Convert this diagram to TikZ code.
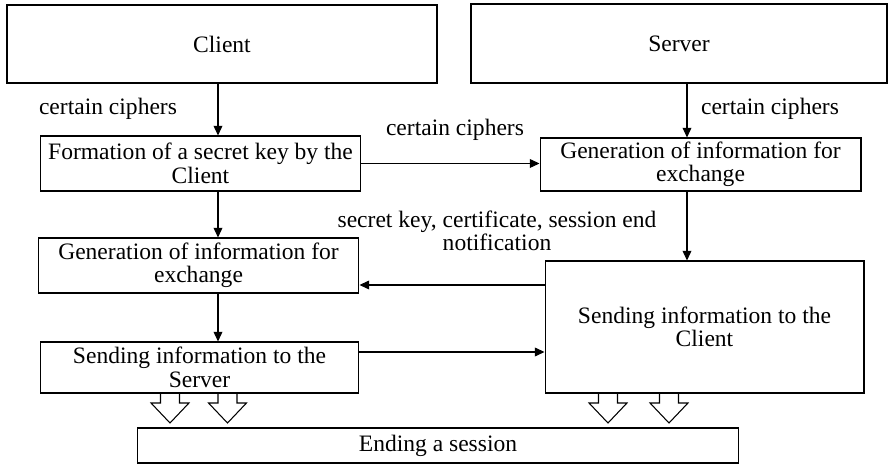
\documentclass[tikz,border=0pt]{standalone}
\usepackage{fontspec}
\setmainfont{Liberation Serif}
\usetikzlibrary{arrows.meta, positioning}

\begin{document}
\begin{tikzpicture}[x=0.02cm, y=-0.02cm,
                    font=\fontsize{13.4}{13.3}\selectfont,
                    >={Triangle[length=5.5pt, width=5pt]},
                    party node/.style= {rectangle,
                      draw,
                      line width=1.4pt,
                      minimum height=1.57cm},
                    stage node/.style= {rectangle,
                      draw,
                      line width=0.6pt,
                      align=center,
                      inner sep=1pt},
                    flow line/.style= {->, line width=0.6pt}]

  \useasboundingbox (0,0) rectangle (890,465);

  % parties
  \node[party node, minimum width=8.6cm] (client) at (222,44) {Client};
  \node[party node, minimum width=8.32cm] (server) at (679,43.5) {Server};

  % stages
  \node[stage node, minimum width=6.42cm, minimum height=1.1cm]
    (formation) at (200.5,163.5) {Formation of a secret key by the\\Client};
  \node[stage node, minimum width=6.42cm, minimum height=1.06cm]
    (genS) at (700.5,164.5) {Generation of information for\\exchange};
  \node[stage node, minimum width=6.42cm, minimum height=1.1cm]
    (genC) at (198.5,265.5) {Generation of information for\\exchange};
  \node[stage node, minimum width=6.38cm, minimum height=1.02cm]
    (sendS) at (199.5,367.5) {Sending information to the\\Server};
  \node[stage node, minimum width=6.38cm, minimum height=2.64cm]
    (sendC) at (704.5,327) {Sending information to the\\Client};
  \node[stage node, minimum width=12.04cm, minimum height=0.7cm]
    (ending) at (438,445.5) {Ending a session};

  % labels
  \node (ciphA) at (108,109) {certain ciphers};
  \node (ciphB) at (455,130) {certain ciphers};
  \node (ciphC) at (770,109) {certain ciphers};
  \node[align=center] (keys) at (497,231) {secret key, certificate, session end\\notification};

  \coordinate (colL) at (218,0);
  \coordinate (colR) at (687,0);
  \coordinate (rowA) at (0,285);
  \coordinate (rowB) at (0,352);

  \path[flow line]
    (client.south -| colL) edge (formation.north -| colL)
    (formation.south -| colL) edge (genC.north -| colL)
    (genC.south -| colL) edge (sendS.north -| colL)
    (server.south -| colR) edge (genS.north -| colR)
    (genS.south -| colR) edge (sendC.north -| colR)
    (formation.east) edge (formation.east -| genS.west)
    (sendC.west |- rowA) edge (genC.east |- rowA)
    (sendS.east |- rowB) edge (sendC.west |- rowB);

  % hollow arrows to the end of the session
  \foreach \xx in {170,227.5,608,669}
    \draw[line width=0.6pt] (\xx-9.5,393) -- (\xx-9.5,403) -- (\xx-19,403)
      -- (\xx,423) -- (\xx+19,403) -- (\xx+9.5,403) -- (\xx+9.5,393);
\end{tikzpicture}
\end{document}
